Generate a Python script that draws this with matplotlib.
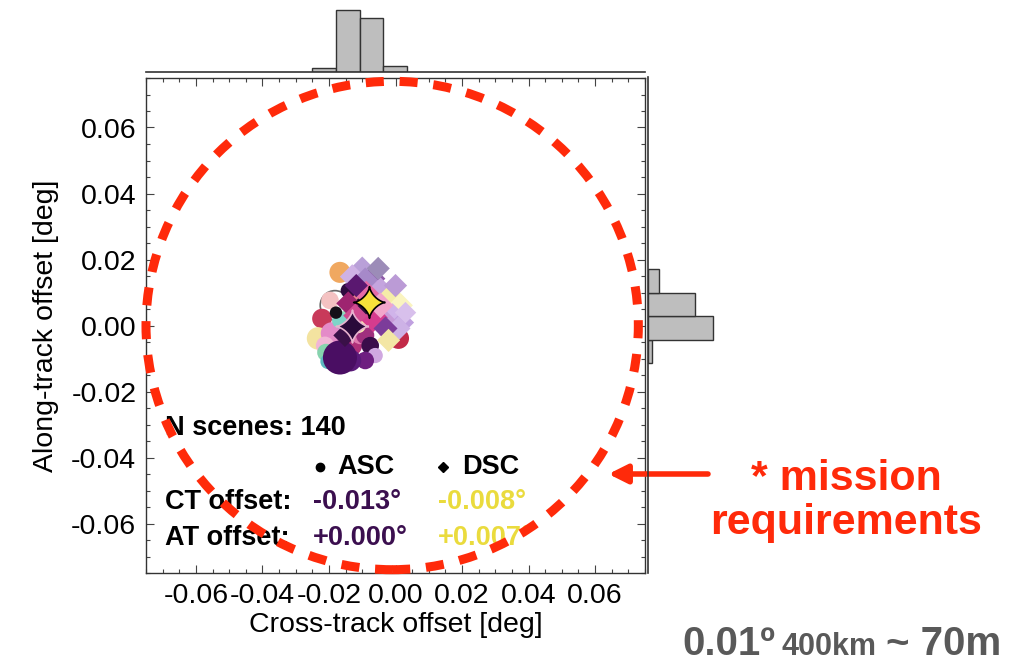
import matplotlib
matplotlib.use('Agg')

import numpy as np
import matplotlib.pyplot as plt
from matplotlib.patches import Circle
from matplotlib.path import Path
from matplotlib.ticker import MultipleLocator

plt.rcParams['font.family'] = ['Liberation Sans', 'DejaVu Sans']

## DATA ##
# ascending scenes (circles)
asc_x = [-0.0182, -0.0152, -0.0167, -0.0197, -0.0221, -0.0233, -0.0191, -0.0212, -0.0209, -0.0203, -0.0152,
         -0.0167, -0.0130, -0.0106, -0.0091, -0.0076, -0.0121, -0.0142, -0.0100, -0.0061, -0.0061, -0.0030,
         -0.0091, 0.0009, -0.0136, -0.0167, -0.0179, -0.0112, -0.0045]
asc_y = [0.0061, -0.0045, 0.0161, 0.0076, 0.0021, -0.0039, -0.0024, -0.0061, -0.0082, -0.0109, 0.0021,
         0.0015, -0.0061, -0.0030, -0.0030, -0.0061, 0.0076, 0.0106, 0.0130, 0.0106, -0.0091, -0.0015,
         -0.0106, -0.0039, -0.0106, -0.0097, 0.0039, 0.0000, 0.0021]
asc_size = [450, 520, 230, 160, 200, 260, 260, 170, 160, 120, 120,
            130, 200, 160, 170, 160, 160, 120, 120, 100, 120, 120,
            160, 230, 250, 600, 80, 120, 80]
asc_color = ['none', 'none', '#F0A860', '#F4C2C2', '#C83A5A', '#F3E3A0', '#E48BC8', '#F1B6D6', '#86D3AE',
             '#5CB8C0', '#9ADBB8', '#7FD4C8', '#B0307A', '#E07AB0', '#A0307E', '#3A0C4A', '#E8848A',
             '#2E0B3F', '#F08CB5', '#E85C9A', '#D0A8E0', '#E9A0C0', '#6E1E80', '#C22A48', '#5B1A7A',
             '#4A0E63', '#151018', '#F7EAB0', '#C9408F']
asc_edge = ['#666666', '#777777'] + ['none'] * 27

# descending scenes (diamonds)
dsc_x = [-0.0100, -0.0070, -0.0130, -0.0091, -0.0045, -0.0015, 0.0015, -0.0009, 0.0021, -0.0030, 0.0009,
         -0.0067, -0.0045, -0.0106, -0.0142, -0.0121, -0.0030, -0.0088, 0.0000, -0.0118, -0.0021, -0.0152,
         -0.0052, 0.0030]
dsc_y = [0.0167, 0.0142, 0.0148, 0.0136, 0.0106, 0.0085, 0.0061, 0.0030, 0.0009, 0.0009, -0.0009,
         0.0024, 0.0061, 0.0052, 0.0067, 0.0030, -0.0009, 0.0097, 0.0121, 0.0121, -0.0045, -0.0030,
         0.0173, 0.0039]
dsc_size = [200, 180, 160, 180, 180, 190, 160, 160, 140, 160, 150,
            220, 170, 150, 150, 150, 150, 170, 140, 140, 140, 140, 140, 120]
dsc_color = ['#B9A0D8', '#8E5AA8', '#CFB2E5', '#A689C9', '#C4A4DE', '#F5EDA8', '#FAF4C0', '#D0B4EA',
             '#C0A0E0', '#C79BD8', '#CDB2E6', '#D63C8E', '#F2A6CB', '#2A0E38', '#9E2470', '#D04A90',
             '#7C3C9A', '#E56AA6', '#BB9BD6', '#5A1870', '#F3E6A5', '#3A1048', '#9C8CB8', '#D8C0EC']

# mean offsets
asc_mean = (-0.013, 0.000)
dsc_mean = (-0.008, 0.007)
n_scenes = 140

# histograms (bin left edges + counts)
bin_w = 0.0071
ct_bins = [-0.0250, -0.0179, -0.0108, -0.0037]
ct_counts = [4, 69, 60, 7]
at_bins = [-0.0115, -0.0044, 0.0027, 0.0098]
at_counts = [4, 72, 52, 12]

# mission requirement circle
req_center = (-0.001, 0.0)
req_radius = 0.074

RED = '#FF2A0A'
GRAY = '#595959'

# 4-pointed star with curved sides
t = np.linspace(0, 2 * np.pi, 61)
star = Path(np.column_stack([np.cos(t) ** 3, np.sin(t) ** 3]))

W, H = 1036, 663
fig = plt.figure(figsize=(W / 100, H / 100), dpi=100)

ax = fig.add_axes([146 / W, 1 - 573 / H, 499 / W, 495 / H])
ax_top = fig.add_axes([146 / W, 1 - 72 / H, 499 / W, 72 / H])
ax_right = fig.add_axes([648 / W, 1 - 573 / H, 72 / W, 496 / H])

# scatter
ax.scatter(asc_x, asc_y, s=asc_size, c=asc_color, marker='o', edgecolors=asc_edge, linewidths=1.2, zorder=3)
ax.scatter(dsc_x, dsc_y, s=dsc_size, c=dsc_color, marker='D', edgecolors='none', zorder=4)
ax.scatter([dsc_mean[0]], [dsc_mean[1]], s=520, c='#F7E03A', marker=star, edgecolors='black', linewidths=1.2, zorder=6)
ax.scatter([asc_mean[0]], [asc_mean[1]], s=560, c='#2A0A3A', marker=star, edgecolors='#E9B3CF', linewidths=1.2, zorder=6)

ax.set_xlim(-0.075, 0.075)
ax.set_ylim(-0.075, 0.075)
ax.xaxis.set_major_locator(MultipleLocator(0.02))
ax.yaxis.set_major_locator(MultipleLocator(0.02))
ax.xaxis.set_minor_locator(MultipleLocator(0.005))
ax.yaxis.set_minor_locator(MultipleLocator(0.005))
ax.xaxis.set_major_formatter(lambda v, p: '%.2f' % v)
ax.yaxis.set_major_formatter(lambda v, p: '%.2f' % v)
ax.tick_params(which='both', direction='in', top=True, right=True, color='#444444', width=0.8)
ax.tick_params(which='major', length=6, labelsize=20.5, pad=7)
ax.tick_params(which='minor', length=3)
for s in ax.spines.values():
    s.set_color('#333333')
    s.set_linewidth(1)
ax.set_xlabel('Cross-track offset [deg]', fontsize=20.5, labelpad=2)
ax.set_ylabel('Along-track offset [deg]', fontsize=20.5, labelpad=9)

# requirement circle
circ = Circle(req_center, req_radius, fill=False, edgecolor=RED, linewidth=6.5,
              linestyle=(0, (2.0, 1.75)), clip_on=False, zorder=7)
circ.set_capstyle('butt')
ax.add_patch(circ)

# text block
tx = ax.transAxes
fs = 19.5
ax.text(0.038, 0.293, 'N scenes: %d' % n_scenes, transform=tx, fontsize=fs, fontweight='bold', va='center', zorder=5)
ax.plot([0.349], [0.214], 'o', color='black', markersize=6, transform=tx)
ax.text(0.383, 0.214, 'ASC', transform=tx, fontsize=fs, fontweight='bold', va='center')
ax.plot([0.595], [0.214], 'D', color='black', markersize=5.5, transform=tx)
ax.text(0.633, 0.214, 'DSC', transform=tx, fontsize=fs, fontweight='bold', va='center')
ax.text(0.038, 0.143, 'CT offset:', transform=tx, fontsize=fs, fontweight='bold', va='center')
ax.text(0.038, 0.071, 'AT offset:', transform=tx, fontsize=fs, fontweight='bold', va='center')
ax.text(0.335, 0.143, '%+.3f°' % asc_mean[0], transform=tx, fontsize=fs, fontweight='bold', va='center', color='#3B0F4F')
ax.text(0.335, 0.071, '%+.3f°' % asc_mean[1], transform=tx, fontsize=fs, fontweight='bold', va='center', color='#3B0F4F')
ax.text(0.585, 0.143, '%+.3f°' % dsc_mean[0], transform=tx, fontsize=fs, fontweight='bold', va='center', color='#EADB3D')
ax.text(0.585, 0.071, '%+.3f°' % dsc_mean[1], transform=tx, fontsize=fs, fontweight='bold', va='center', color='#EADB3D')

# marginal histograms
ax_top.bar(ct_bins, ct_counts, width=bin_w, align='edge', color='#BEBEBE', edgecolor='#333333', linewidth=1)
ax_top.set_xlim(-0.075, 0.075)
ax_top.set_ylim(0, 80)
ax_top.axis('off')
ax_top.axhline(0, color='#333333', linewidth=1.2, clip_on=False)

ax_right.barh(at_bins, at_counts, height=bin_w, align='edge', color='#BEBEBE', edgecolor='#333333', linewidth=1)
ax_right.set_ylim(-0.075, 0.075)
ax_right.set_xlim(0, 80)
ax_right.axis('off')
ax_right.axvline(0, color='#333333', linewidth=1.2, clip_on=False)

# annotation
ax.annotate('', xy=(0.064, -0.045), xycoords='data', xytext=(708 / W, 1 - 474 / H), textcoords='figure fraction',
            arrowprops=dict(arrowstyle='-|>', color=RED, lw=4, mutation_scale=28, shrinkA=0, shrinkB=0),
            annotation_clip=False)
fig.text(846 / W, 1 - 501 / H, '* mission\nrequirements', color=RED, fontsize=31, fontweight='bold',
         ha='center', va='center', linespacing=1.15)

fig.text(682 / W, 8 / H, '0.01º', color=GRAY, fontsize=29, fontweight='bold', va='baseline')
fig.text(781 / W, 8 / H, '400km', color=GRAY, fontsize=22, fontweight='bold', va='baseline')
fig.text(886 / W, 8 / H, '~ 70m', color=GRAY, fontsize=29, fontweight='bold', va='baseline')

fig.savefig('out.png', dpi=100)
